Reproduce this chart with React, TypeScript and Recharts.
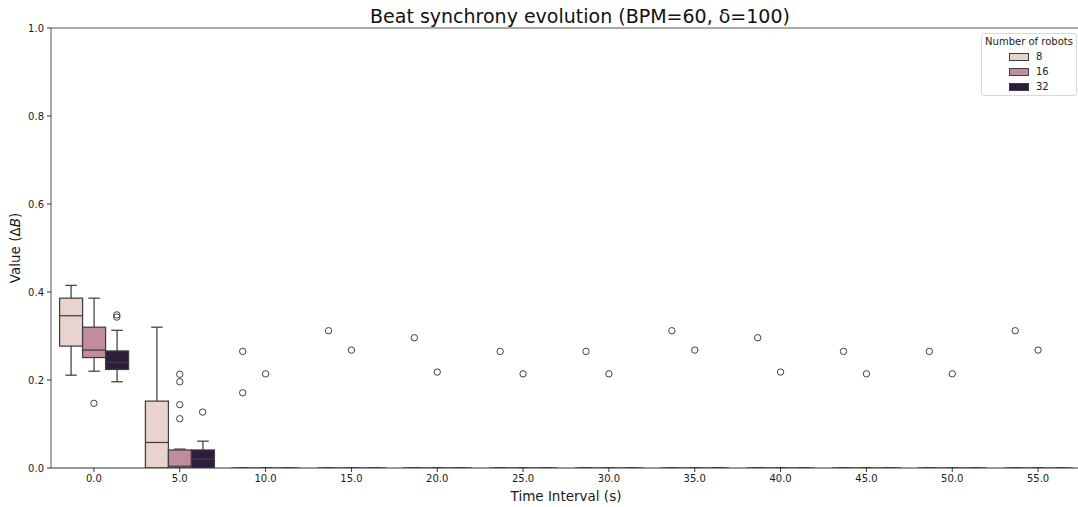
import React from 'react';
import { ComposedChart, Bar, Scatter, XAxis, YAxis, ReferenceLine } from 'recharts';

// Categories (time intervals)
const categories = ['0.0', '5.0', '10.0', '15.0', '20.0', '25.0', '30.0', '35.0', '40.0', '45.0', '50.0', '55.0'];
const hueLabels = ['8', '16', '32'];
const hueColors = ['#e9d3ce', '#c18c9b', '#2d1e3d'];
const yTicks = [0, 0.2, 0.4, 0.6, 0.8, 1.0];

// Box stats per category: [whiskerLow, Q1, median, Q3, whiskerHigh]
const box8: number[][] = [
  [0.211, 0.277, 0.346, 0.386, 0.415],
  [0, 0, 0.058, 0.152, 0.320],
  [0, 0, 0, 0, 0], [0, 0, 0, 0, 0], [0, 0, 0, 0, 0], [0, 0, 0, 0, 0],
  [0, 0, 0, 0, 0], [0, 0, 0, 0, 0], [0, 0, 0, 0, 0], [0, 0, 0, 0, 0],
  [0, 0, 0, 0, 0], [0, 0, 0, 0, 0],
];
const box16: number[][] = [
  [0.220, 0.251, 0.268, 0.320, 0.386],
  [0, 0, 0.004, 0.041, 0.043],
  [0, 0, 0, 0, 0], [0, 0, 0, 0, 0], [0, 0, 0, 0, 0], [0, 0, 0, 0, 0],
  [0, 0, 0, 0, 0], [0, 0, 0, 0, 0], [0, 0, 0, 0, 0], [0, 0, 0, 0, 0],
  [0, 0, 0, 0, 0], [0, 0, 0, 0, 0],
];
const box32: number[][] = [
  [0.196, 0.224, 0.240, 0.266, 0.313],
  [0, 0, 0.020, 0.041, 0.061],
  [0, 0, 0, 0, 0], [0, 0, 0, 0, 0], [0, 0, 0, 0, 0], [0, 0, 0, 0, 0],
  [0, 0, 0, 0, 0], [0, 0, 0, 0, 0], [0, 0, 0, 0, 0], [0, 0, 0, 0, 0],
  [0, 0, 0, 0, 0], [0, 0, 0, 0, 0],
];

// Outliers: [categoryIndex, value]
const outliers8: number[][] = [
  [2, 0.265], [2, 0.171], [3, 0.312], [4, 0.296], [5, 0.265], [6, 0.265],
  [7, 0.312], [8, 0.296], [9, 0.265], [10, 0.265], [11, 0.312],
];
const outliers16: number[][] = [
  [0, 0.147], [1, 0.213], [1, 0.196], [1, 0.144], [1, 0.112],
  [2, 0.214], [3, 0.268], [4, 0.218], [5, 0.214], [6, 0.214],
  [7, 0.268], [8, 0.218], [9, 0.214], [10, 0.214], [11, 0.268],
];
const outliers32: number[][] = [
  [0, 0.348], [0, 0.343], [1, 0.127],
];

const boxes = [box8, box16, box32];
const outliers = [outliers8, outliers16, outliers32];
const hueOffsets = [-0.8 / 3, 0, 0.8 / 3];

const rows = categories.map((label, i) => {
  const row: any = { label };
  boxes.forEach((b, h) => {
    row['r' + h] = [b[i][0], b[i][4]];
    row['s' + h] = b[i];
  });
  return row;
});

const outlierData = outliers.map((arr, h) =>
  arr.map(([c, v]) => ({ x: c + hueOffsets[h], y: v }))
);

const EDGE = '#3f3f3f';
const FONT = 'DejaVu Sans, Verdana, sans-serif';

const makeBox = (h: number) => (props: any) => {
  const { x, y, width, height, payload } = props;
  const s: number[] = payload['s' + h];
  const top = Math.min(y, y + height);
  const hh = Math.abs(height);
  const lo = s[0];
  const hi = s[4];
  const py = (v: number) => (hi === lo ? top : top + (hh * (hi - v)) / (hi - lo));
  const cx = x + width / 2;
  const cap = width / 4;
  return (
    <g>
      <line x1={cx} x2={cx} y1={py(hi)} y2={py(s[3])} stroke={EDGE} strokeWidth={1.25} />
      <line x1={cx} x2={cx} y1={py(s[1])} y2={py(lo)} stroke={EDGE} strokeWidth={1.25} />
      <line x1={cx - cap} x2={cx + cap} y1={py(hi)} y2={py(hi)} stroke={EDGE} strokeWidth={1.25} />
      <line x1={cx - cap} x2={cx + cap} y1={py(lo)} y2={py(lo)} stroke={EDGE} strokeWidth={1.25} />
      <rect
        x={x}
        y={py(s[3])}
        width={width}
        height={Math.max(0, py(s[1]) - py(s[3]))}
        fill={hueColors[h]}
        stroke={EDGE}
        strokeWidth={1.25}
      />
      <line x1={x} x2={x + width} y1={py(s[2])} y2={py(s[2])} stroke={EDGE} strokeWidth={1.25} />
    </g>
  );
};

const OutlierDot = (props: any) => (
  <circle cx={props.cx} cy={props.cy} r={3.2} fill="none" stroke={EDGE} strokeWidth={1} />
);

const YLabel = (props: any) => {
  const vb = props.viewBox || {};
  const cy = (vb.y || 28) + (vb.height || 440) / 2;
  const cx = 15;
  return (
    <text
      x={cx}
      y={cy}
      transform={`rotate(-90, ${cx}, ${cy})`}
      textAnchor="middle"
      dominantBaseline="central"
      fontSize={13.5}
      fontFamily={FONT}
      fill="#1a1a1a"
    >
      Value (<tspan>Δ</tspan><tspan fontStyle="italic">B</tspan>)
    </text>
  );
};

const XLabel = (props: any) => {
  const vb = props.viewBox || {};
  const cx = (vb.x || 51) + (vb.width || 1030) / 2;
  return (
    <text x={cx} y={501} textAnchor="middle" fontSize={13.5} fontFamily={FONT} fill="#1a1a1a">
      Time Interval (s)
    </text>
  );
};

export default function App() {
  return (
    <div
      style={{
        position: 'absolute',
        left: 0,
        top: 0,
        width: 1078,
        height: 507,
        overflow: 'hidden',
        background: '#fff',
        fontFamily: FONT,
      }}
    >
      <ComposedChart
        width={1081}
        height={507}
        data={rows}
        margin={{ top: 28, right: 0, bottom: 0, left: 0 }}
        barCategoryGap="10%"
        barGap={0}
      >
        <XAxis
          dataKey="label"
          type="category"
          height={39}
          interval={0}
          tickSize={4}
          tickMargin={3}
          tick={{ fontSize: 10, fill: '#1a1a1a', fontFamily: FONT }}
          tickLine={{ stroke: '#333' }}
          axisLine={{ stroke: '#333', strokeWidth: 1 }}
          label={<XLabel />}
        />
        <XAxis xAxisId="num" type="number" dataKey="x" domain={[-0.5, 11.5]} hide allowDataOverflow />
        <YAxis
          type="number"
          domain={[0, 1]}
          ticks={yTicks}
          width={51}
          tickSize={4}
          tickMargin={3}
          tickFormatter={(v: number) => v.toFixed(1)}
          tick={{ fontSize: 10, fill: '#1a1a1a', fontFamily: FONT }}
          tickLine={{ stroke: '#333' }}
          axisLine={{ stroke: '#555', strokeWidth: 1 }}
          allowDataOverflow
          label={<YLabel />}
        />
        <ReferenceLine y={1} stroke="#555" strokeWidth={1} />
        {hueLabels.map((hl, h) => (
          <Bar
            key={'b' + hl}
            dataKey={'r' + h}
            fill={hueColors[h]}
            isAnimationActive={false}
            shape={makeBox(h)}
          />
        ))}
        {hueLabels.map((hl, h) => (
          <Scatter
            key={'o' + hl}
            xAxisId="num"
            data={outlierData[h]}
            dataKey="y"
            isAnimationActive={false}
            shape={<OutlierDot />}
          />
        ))}
      </ComposedChart>
      <div
        style={{
          position: 'absolute',
          left: 0,
          width: 1160,
          top: 5,
          textAlign: 'center',
          fontSize: 19,
          color: '#111',
          lineHeight: '22px',
        }}
      >
        Beat synchrony evolution (BPM=60, δ=100)
      </div>
      <div
        style={{
          position: 'absolute',
          left: 981,
          top: 33,
          width: 94,
          height: 61,
          border: '1px solid #d9d9d9',
          borderRadius: 3,
          background: 'rgba(255,255,255,0.85)',
          fontSize: 10,
          color: '#222',
        }}
      >
        <div style={{ position: 'absolute', top: 2, left: 0, width: 94, textAlign: 'center', lineHeight: '12px' }}>
          Number of robots
        </div>
        {hueLabels.map((hl, h) => (
          <div key={hl} style={{ position: 'absolute', left: 27, top: 17 + h * 15, height: 12, display: 'flex', alignItems: 'center' }}>
            <div
              style={{
                width: 18,
                height: 6,
                background: hueColors[h],
                border: `1px solid ${EDGE}`,
              }}
            />
            <span style={{ marginLeft: 7, lineHeight: '12px' }}>{hl}</span>
          </div>
        ))}
      </div>
    </div>
  );
}
